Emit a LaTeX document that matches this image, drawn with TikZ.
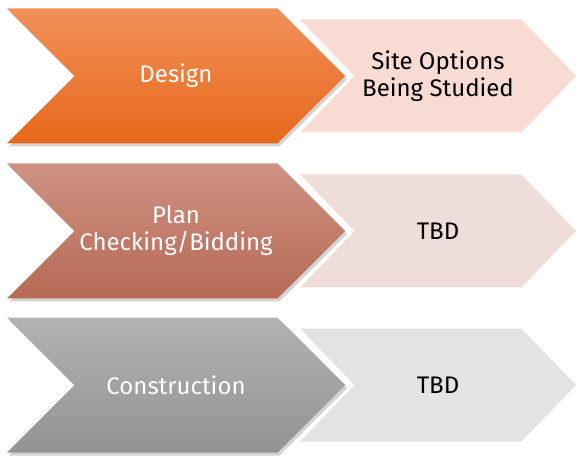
\documentclass[tikz,border=0pt]{standalone}
\usepackage{fontspec}
\setmainfont{Fira Sans}
\usetikzlibrary{shapes.symbols,shadows}
\definecolor{designtop}{HTML}{F19059}
\definecolor{designbot}{HTML}{E7681A}
\definecolor{plantop}{HTML}{CF9282}
\definecolor{planbot}{HTML}{B66956}
\definecolor{constop}{HTML}{B2B2B2}
\definecolor{consbot}{HTML}{939393}
\definecolor{designlight}{HTML}{F8DBD2}
\definecolor{planlight}{HTML}{EFDDD9}
\definecolor{conslight}{HTML}{E3E3E3}
\tikzset{
  phase/.style={signal, signal from=west, signal to=east, signal pointer angle=90,
    minimum width=338, minimum height=135, inner sep=0pt, text=white, shading=axis,
    drop shadow={opacity=0.35, shadow xshift=2pt, shadow yshift=-3pt},
    font=\fontsize{24}{27}\selectfont, align=center},
  status/.style={signal, signal from=west, signal to=east, signal pointer angle=92,
    minimum width=276, minimum height=113, inner sep=0pt, text=black,
    font=\fontsize{24}{27}\selectfont, align=center}
}
\begin{document}
\begin{tikzpicture}[x=1pt,y=-1pt]
    \useasboundingbox (0,0) rectangle (576,457);
    % Status
    \node[status, fill=designlight] (site) at (438,76) {Site Options\\Being Studied};
    \node[status, fill=planlight] (tbdA) at (438,231) {TBD};
    \node[status, fill=conslight] (tbdB) at (438,385) {TBD};
    % Phases
    \node[phase, top color=designtop, bottom color=designbot] (design) at (176,76) {Design};
    \node[phase, top color=plantop, bottom color=planbot] (plan) at (176,231) {Plan\\Checking/Bidding};
    \node[phase, top color=constop, bottom color=consbot] (construction) at (176,385) {Construction};
\end{tikzpicture}
\end{document}
